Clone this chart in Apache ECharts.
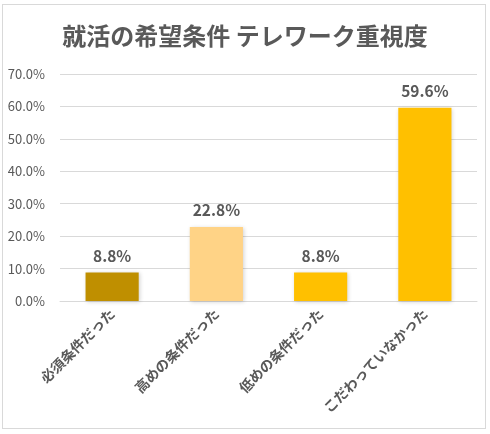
<!DOCTYPE html>
<html>
<head>
<meta charset="utf-8">
<script src="https://cdn.jsdelivr.net/npm/echarts@6/dist/echarts.min.js"></script>
<style>
html,body{margin:0;padding:0;background:#fff;}
#frame{position:absolute;left:2px;top:4px;width:484px;height:425px;border:1px solid #d9d9d9;box-sizing:border-box;}
#chart{position:absolute;left:0;top:0;width:490px;height:434px;}
</style>
</head>
<body>
<div id="frame"></div>
<div id="chart"></div>
<script>
const categories = ['必須条件だった', '高めの条件だった', '低めの条件だった', 'こだわっていなかった'];
const values = [8.8, 22.8, 8.8, 59.6];
const barColors = ['#BF8F00', '#FFD386', '#FFC000', '#FFC000'];
const titleText = '就活の希望条件 テレワーク重視度';

const chart = echarts.init(document.getElementById('chart'), null, {renderer: 'canvas'});
const font = '"Noto Sans CJK JP", "Noto Sans", sans-serif';
chart.setOption({
  backgroundColor: 'transparent',
  textStyle: {fontFamily: font},
  title: {
    text: titleText,
    left: 'center',
    top: 19,
    textStyle: {fontFamily: font, fontSize: 24, fontWeight: 'bold', color: '#595959'}
  },
  grid: {left: 60, right: 13, top: 74, bottom: 133, containLabel: false},
  xAxis: {
    type: 'category',
    data: categories,
    axisLine: {show: true, lineStyle: {color: '#d9d9d9', width: 1}},
    axisTick: {show: false},
    axisLabel: {
      rotate: 45,
      margin: 10,
      interval: 0,
      color: '#595959',
      fontSize: 14,
      fontWeight: 'bold',
      fontFamily: font
    }
  },
  yAxis: {
    type: 'value',
    min: 0,
    max: 70,
    interval: 10,
    axisLine: {show: false},
    axisTick: {show: false},
    splitLine: {lineStyle: {color: '#d9d9d9', width: 1}},
    axisLabel: {
      margin: 15,
      color: '#595959',
      fontSize: 13,
      fontFamily: font,
      formatter: v => v.toFixed(1) + '%'
    }
  },
  series: [{
    type: 'bar',
    barWidth: '51%',
    data: values.map((v, i) => ({value: v, itemStyle: {color: barColors[i]}})),
    itemStyle: {shadowBlur: 4, shadowColor: 'rgba(0,0,0,0.18)', shadowOffsetX: 1, shadowOffsetY: 1},
    label: {
      show: true,
      position: 'top',
      distance: 9,
      color: '#595959',
      fontSize: 15.5,
      fontWeight: 'bold',
      fontFamily: font,
      formatter: p => p.value.toFixed(1) + '%'
    }
  }]
});
</script>
</body>
</html>
